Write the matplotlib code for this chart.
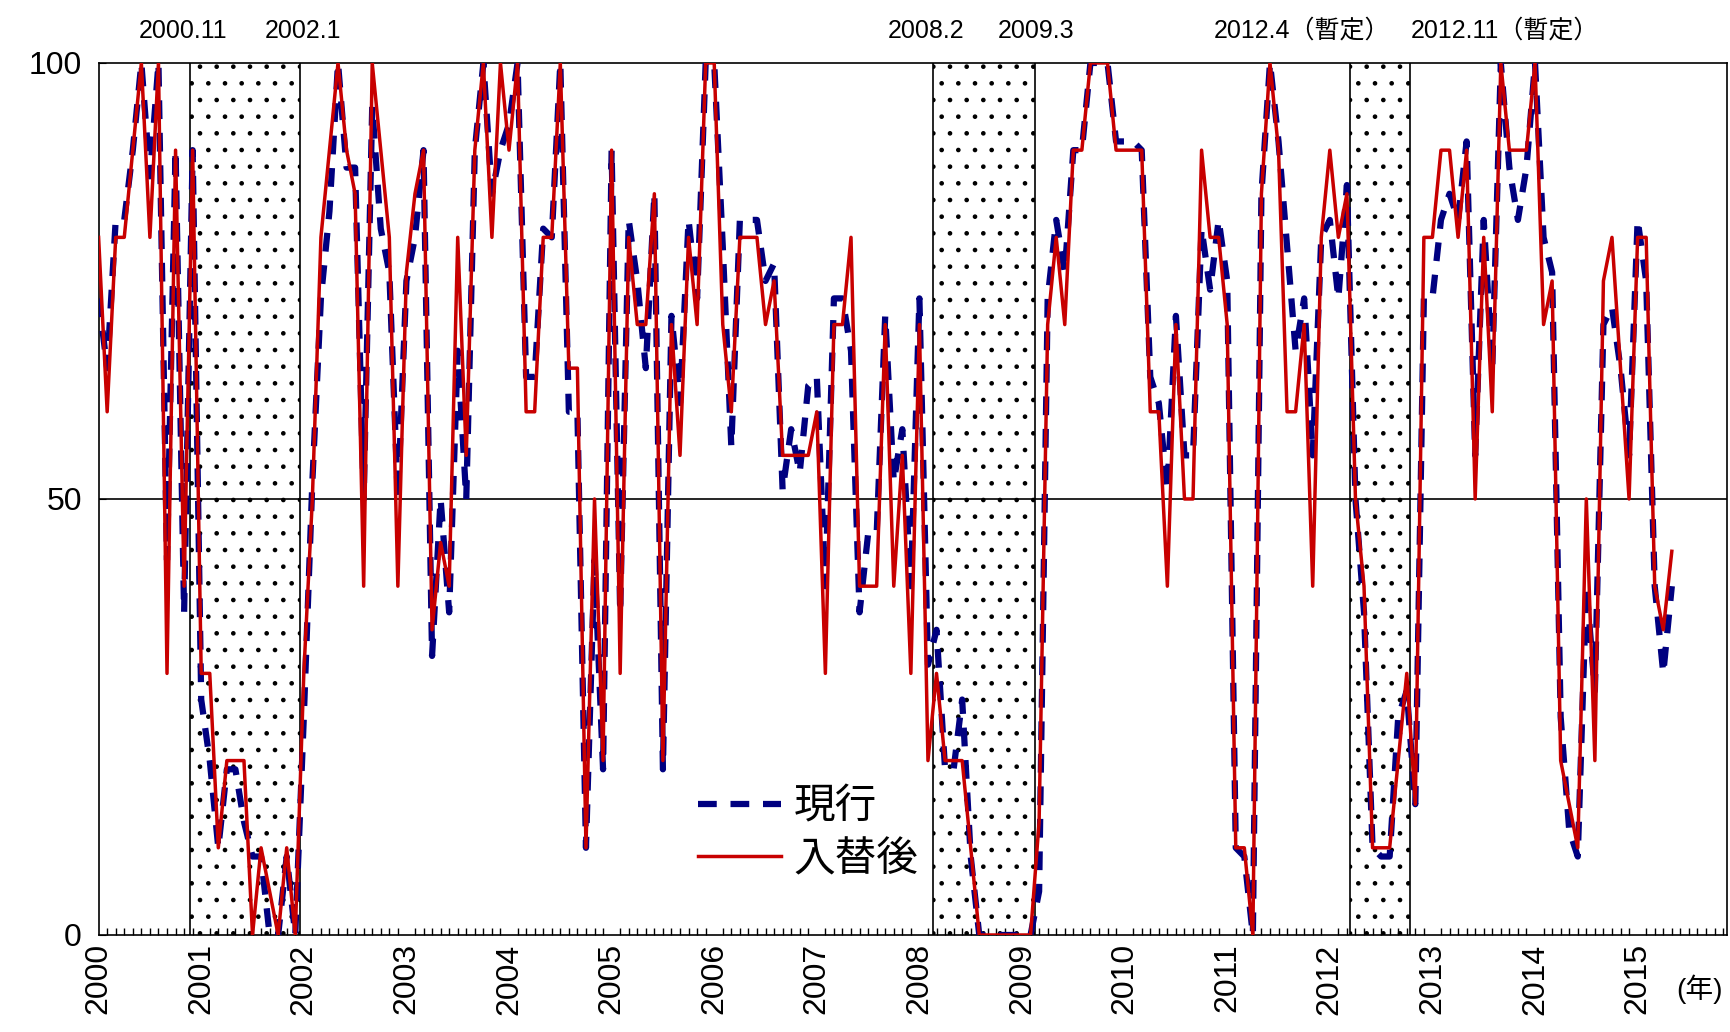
import matplotlib
matplotlib.use("Agg")
import matplotlib.pyplot as plt
import numpy as np

plt.rcParams['font.family'] = ['Liberation Sans', 'Noto Sans CJK JP', 'DejaVu Sans']
plt.rcParams['hatch.linewidth'] = 0.9

# monthly values, Jan 2000 .. May 2015
current = [73,65,82,82,90,100,87,100,43,90,37,90,27,20,10,19,19,13,9,9,0,0,9,0,25,52,73,83,
           100,88,88,50,95,81,76,50,75,80,90,32,50,37,67,50,90,100,85,90,93,100,64,64,81,80,100,60,
           60,10,43,19,90,37,82,75,65,85,19,71,61,82,73,100,100,79,56,82,82,82,75,77,51,58,53,63,
           64,40,73,73,67,37,46,46,71,52,58,40,73,31,35,19,19,27,9,0,0,0,0,0,0,0,5,
           73,82,76,90,90,100,100,100,91,91,91,90,64,61,51,71,55,55,81,74,82,75,10,9,0,85,100,91,79,
           67,73,55,80,82,73,86,50,37,10,9,9,25,28,15,73,73,82,85,82,91,55,82,65,100,88,82,88,100,80,76,25,
           12,9,40,28,70,72,65,55,82,75,40,30,40]
replaced = [80,60,80,80,90,100,80,100,30,90,40,90,30,30,10,20,20,20,0,10,5,0,10,0,30,50,80,90,
            100,90,85,40,100,90,80,40,76,85,90,35,45,40,80,55,90,100,80,100,90,100,60,60,80,80,100,65,
            65,10,50,20,90,30,80,70,70,85,20,70,55,80,70,100,100,70,60,80,80,80,70,75,55,55,55,55,
            60,30,70,70,80,40,40,40,70,40,55,30,70,20,30,20,20,20,10,0,0,0,0,0,0,0,13,
            70,80,70,90,90,100,100,100,90,90,90,90,60,60,40,70,50,50,90,80,80,70,10,10,0,85,100,90,60,
            60,70,40,80,90,80,85,50,40,10,10,10,20,30,15,80,80,90,90,80,90,50,80,60,100,90,90,90,100,70,75,20,
            15,10,50,20,75,80,65,50,80,80,40,35,44]
years = [str(y) for y in range(2000, 2016)]
shade_periods = [(10.7, 23.6), (97.6, 109.5), (146.4, 153.4)]
edge_labels = ["2000.11", "2002.1", "2008.2", "2009.3", "2012.4（暫定）", "2012.11（暫定）"]
label_pos = [9.9, 23.9, 96.8, 109.7, 140.7, 164.5]

fig = plt.figure(figsize=(17.3, 10.32), dpi=100)
ax = fig.add_axes([0.057, 0.094, 0.941, 0.845])

for (a, b) in shade_periods:
    ax.axvspan(a, b, facecolor='white', edgecolor='black', hatch='.', linewidth=0, zorder=0)
edges = [e for p in shade_periods for e in p]
for e in edges:
    ax.axvline(e, color='black', lw=1.2, zorder=1)
for xp, lab in zip(label_pos, edge_labels):
    ax.text(xp, 102.3, lab, ha='center', va='bottom', fontsize=18)

ax.axhline(50, color='black', lw=1.2, zorder=1)

x = np.arange(len(current))
l1, = ax.plot(x, current, color='#000080', lw=4.5, dashes=(3, 2.2), label='現行', zorder=3)
l2, = ax.plot(x, replaced, color='#C80000', lw=2.5, label='入替後', zorder=4)

ax.set_xlim(0, 190.4)
ax.set_ylim(0, 100)
ax.set_yticks([0, 50, 100])
ax.set_yticklabels(['0', '50', '100'], fontsize=23)
ax.set_xticks(np.arange(0, 181, 12))
ax.set_xticklabels(years, rotation=90, fontsize=23)
ax.set_xticks(np.arange(0, 191, 1), minor=True)
ax.tick_params(axis='x', which='both', direction='in', length=5, width=1, pad=6)
ax.tick_params(axis='x', which='major', length=0)
ax.tick_params(axis='y', direction='in', length=5, pad=12)
for s in ax.spines.values():
    s.set_linewidth(1.2)
ax.text(184.5, -4.5, '(年)', ha='left', va='top', fontsize=20)

ax.legend(handles=[l1, l2], loc='lower left', bbox_to_anchor=(0.345, 0.02), frameon=False,
          fontsize=30, handlelength=2.0, labelspacing=0.3, handletextpad=0.3)

fig.savefig('out.png', dpi=100)
